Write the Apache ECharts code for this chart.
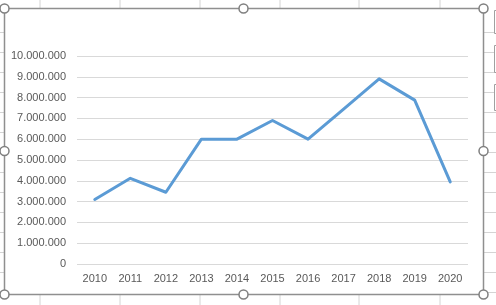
<!DOCTYPE html>
<html>
<head>
<meta charset="utf-8">
<script src="https://cdn.jsdelivr.net/npm/echarts@6/dist/echarts.min.js"></script>
<style>html,body{margin:0;padding:0;background:#fff;}#c{width:496px;height:305px;}</style>
</head>
<body>
<div id="c"></div>
<script>
var years = ['2010','2011','2012','2013','2014','2015','2016','2017','2018','2019','2020'];
var values = [3100000, 4120000, 3450000, 6000000, 6000000, 6900000, 6000000, 7450000, 8900000, 7880000, 3950000];
var yTicks = [0, 1000000, 2000000, 3000000, 4000000, 5000000, 6000000, 7000000, 8000000, 9000000, 10000000];

function fmt(v){ return String(v).replace(/\B(?=(\d{3})+(?!\d))/g, '.'); }

var chart = echarts.init(document.getElementById('c'), null, {renderer:'canvas'});
var sheetGray = '#d4d4d4';
var frame = '#8f8f8f';
var g = [];
// sheet gridlines outside the chart frame
[40,120,200,280,359,440].forEach(function(x){
  g.push({type:'line', shape:{x1:x,y1:0,x2:x,y2:8}, style:{stroke:sheetGray,lineWidth:1}, z:0});
  g.push({type:'line', shape:{x1:x,y1:294,x2:x,y2:305}, style:{stroke:sheetGray,lineWidth:1}, z:0});
});
for (var y=32; y<294; y+=20){
  g.push({type:'line', shape:{x1:0,y1:y+0.5,x2:4,y2:y+0.5}, style:{stroke:sheetGray,lineWidth:1}, z:0});
  g.push({type:'line', shape:{x1:483,y1:y+0.5,x2:496,y2:y+0.5}, style:{stroke:sheetGray,lineWidth:1}, z:0});
}
// excel side buttons
[[10,33],[45,72],[84,110]].forEach(function(b){
  g.push({type:'rect', shape:{x:494.5,y:b[0]+0.5,width:10,height:b[1]-b[0]}, style:{fill:'#fff',stroke:'#a0a0a0',lineWidth:1}, z:1});
});
// frame
g.push({type:'rect', shape:{x:4.5,y:8.5,width:479,height:286}, style:{fill:null,stroke:frame,lineWidth:1.5}, z:2});
// handles
[[4.5,8.5],[243.5,8.5],[483.5,8.5],[4.5,151],[483.5,151],[4.5,294.5],[243.5,294.5],[483.5,294.5]].forEach(function(p){
  g.push({type:'circle', shape:{cx:p[0],cy:p[1],r:4.5}, style:{fill:'#fff',stroke:'#7f7f7f',lineWidth:1.5}, z:3});
});

chart.setOption({
  animation:false,
  backgroundColor:'#ffffff',
  graphic:g,
  grid:{left:77, right:28, top:56, bottom:41, containLabel:false},
  xAxis:{
    type:'category', data:years, boundaryGap:true,
    axisLine:{show:false}, axisTick:{show:false},
    axisLabel:{color:'#595959', fontFamily:'Liberation Sans', fontSize:11, margin:9}
  },
  yAxis:{
    type:'value', min:0, max:10000000, interval:1000000,
    axisLine:{show:false}, axisTick:{show:false},
    splitLine:{lineStyle:{color:'#d9d9d9', width:1}},
    axisLabel:{color:'#595959', fontFamily:'Liberation Sans', fontSize:11, margin:11,
      formatter:function(v){ return fmt(v); }}
  },
  series:[{
    type:'line', data:values, showSymbol:false, symbol:'none',
    lineStyle:{color:'#5b9bd5', width:3, join:'round', cap:'round'}
  }]
});
</script>
</body>
</html>
